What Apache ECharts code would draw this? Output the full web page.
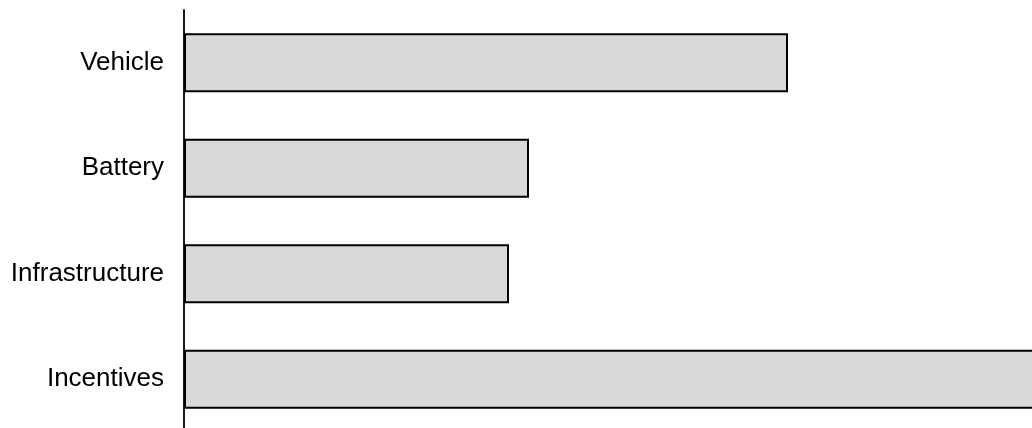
<!DOCTYPE html>
<html>
<head>
<meta charset="utf-8">
<script src="https://cdn.jsdelivr.net/npm/echarts@6/dist/echarts.min.js"></script>
<style>
  html, body { margin: 0; padding: 0; background: #fff; overflow: hidden; }
  #chart { width: 1032px; height: 440px; }
</style>
</head>
<body>
<div id="chart"></div>
<script>
// categories top to bottom
const categories = ['Vehicle', 'Battery', 'Infrastructure', 'Incentives'];
const values = [60.4, 34.5, 32.5, 90];

const chart = echarts.init(document.getElementById('chart'));
chart.setOption({
  animation: false,
  grid: { left: 184, top: 10, width: 848, height: 422 },
  xAxis: {
    type: 'value',
    min: 0,
    max: 84.8,
    show: false
  },
  yAxis: {
    type: 'category',
    inverse: true,
    data: categories,
    axisLine: { lineStyle: { color: '#000', width: 1.8 } },
    axisTick: { show: false },
    axisLabel: {
      color: '#000',
      fontFamily: 'Liberation Sans, Arial, sans-serif',
      fontSize: 26,
      margin: 20
    }
  },
  series: [{
    type: 'bar',
    data: values,
    barWidth: 59,
    clip: false,
    itemStyle: { color: '#d9d9d9', borderColor: '#000', borderWidth: 2 }
  }]
});
</script>
</body>
</html>
